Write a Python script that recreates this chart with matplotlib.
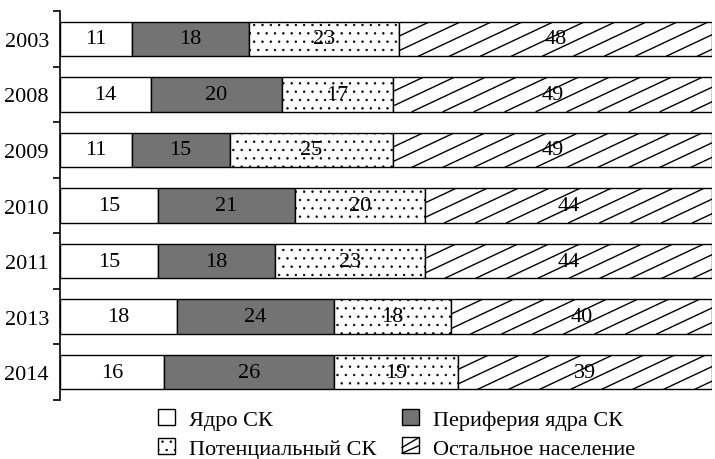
import matplotlib
matplotlib.use("Agg")
import matplotlib.pyplot as plt
import numpy as np
from matplotlib.lines import Line2D
from matplotlib.patches import Patch, Rectangle

plt.rcParams['font.family'] = ['Liberation Serif', 'DejaVu Serif']
plt.rcParams['hatch.linewidth'] = 0.5

years = ["2003", "2008", "2009", "2010", "2011", "2013", "2014"]
series_names = ["Ядро СК", "Периферия ядра СК", "Потенциальный СК", "Остальное население"]
core = [11, 14, 11, 15, 15, 18, 16]
periphery = [18, 20, 15, 21, 18, 24, 26]
potential = [23, 17, 25, 20, 23, 18, 19]
rest = [48, 49, 49, 44, 44, 40, 39]

series = [core, periphery, potential, rest]
fills = ["white", "#737373", "white", "white"]
hatches = [None, None, "..", None]

FS = 16

fig = plt.figure(figsize=(7.15, 4.6), dpi=100)
ax = fig.add_axes([60/715, 1 - 401/460, 652/715, (401 - 12)/460])

y = np.arange(len(years))
left = np.zeros(len(years))
containers = []
for vals, fc, h in zip(series, fills, hatches):
    bars = ax.barh(y, vals, left=left, height=0.62, color=fc, edgecolor="black",
                   linewidth=1.0, hatch=h, zorder=2)
    containers.append(bars)
    for yi, l, v in zip(y, left, vals):
        ax.text(l + v / 2, yi, str(v), ha="center", va="center", fontsize=FS, zorder=5)
    left = left + np.array(vals)

ax.set_xlim(0, 100)
ax.set_ylim(len(years) - 0.5, -0.5)

# custom shallow diagonal hatching for the last series
fig.canvas.draw()
slope = 0.47   # pixel rise per pixel run
spacing = 31   # horizontal spacing in px
inv = ax.transData.inverted()
for bar in containers[3]:
    bb = bar.get_window_extent()
    x0, x1, y0, y1 = bb.x0, bb.x1, bb.y0, bb.y1
    h = y1 - y0
    start = x0 - h / slope
    xs = np.arange(start, x1 + spacing, spacing)
    for xs0 in xs:
        p0 = inv.transform((xs0, y0))
        p1 = inv.transform((xs0 + h / slope, y1))
        ln = Line2D([p0[0], p1[0]], [p0[1], p1[1]], color="black", linewidth=1.0, zorder=3)
        ax.add_line(ln)
        ln.set_clip_path(bar)

ax.set_yticks(y)
ax.set_yticklabels(years, fontsize=FS)
ax.tick_params(axis="y", which="major", length=0, pad=8)
ax.set_yticks(np.arange(-0.5, len(years), 1.0), minor=True)
ax.tick_params(axis="y", which="minor", length=5, width=1.2, direction="out")
ax.set_xticks([])
for s in ["top", "right", "bottom"]:
    ax.spines[s].set_visible(False)
ax.spines["left"].set_linewidth(1.2)


class DiagHandler:
    def legend_artist(self, legend, orig_handle, fontsize, handlebox):
        x0, y0 = handlebox.xdescent, handlebox.ydescent
        w, h = handlebox.width, handlebox.height
        rect = Rectangle((x0, y0), w, h, facecolor="white", edgecolor="black",
                         linewidth=1.0, transform=handlebox.get_transform())
        handlebox.add_artist(rect)
        for (ax0, ay0, ax1, ay1) in [(0.0, 0.35, 1.0, 0.95), (0.0, 0.0, 1.0, 0.45)]:
            ln = Line2D([x0 + ax0 * w, x0 + ax1 * w], [y0 + ay0 * h, y0 + ay1 * h],
                        color="black", linewidth=1.0, transform=handlebox.get_transform())
            handlebox.add_artist(ln)
        return rect


handles = [Patch(facecolor=fills[i], edgecolor="black", hatch=hatches[i], linewidth=1.0)
           for i in range(4)]
order = [0, 2, 1, 3]
leg = fig.legend([handles[i] for i in order], [series_names[i] for i in order],
                 ncol=2, loc="upper left", bbox_to_anchor=(158/715, 1 - 410/460),
                 frameon=False, fontsize=FS, handlelength=0.75, handleheight=0.75,
                 columnspacing=1.15, handletextpad=0.65, labelspacing=0.35,
                 borderpad=0, borderaxespad=0,
                 handler_map={handles[3]: DiagHandler()})

fig.savefig("out.png", dpi=100)
